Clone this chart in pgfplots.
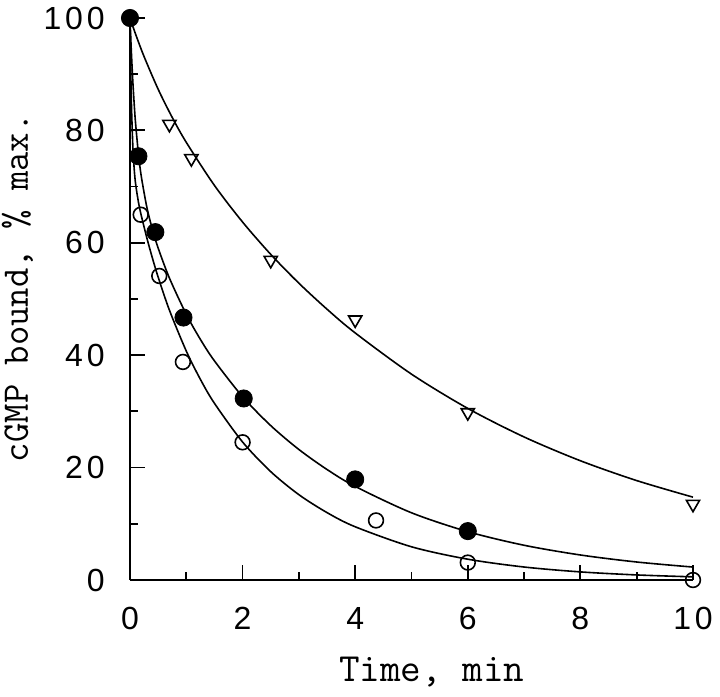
\documentclass[border=0pt]{standalone}
\usepackage{fontspec}
\setmainfont{Liberation Sans}
\newfontfamily\tickfont{Liberation Sans}[LetterSpace=12]
\usepackage{pgfplots}
\pgfplotsset{compat=1.18}
\begin{document}
\begin{tikzpicture}
\begin{axis}[name=ax, at={(0,0)}, anchor=south west, scale only axis,
  width=281.5pt, height=281pt,
  xmin=0, xmax=10, ymin=0, ymax=100,
  axis x line=bottom, axis y line=left,
  axis line style={-, line width=1pt, black},
  xtick={0,2,...,10}, ytick={0,20,...,100},
  minor xtick={1,3,5,7,9}, minor ytick={10,30,50,70,90},
  tick align=inside, major tick length=7.5pt, minor tick length=4pt,
  every tick/.style={line width=0.9pt, black},
  clip=false,
  /pgf/number format/assume math mode=true,
  ticklabel style={font=\tickfont\fontsize{16}{16}\selectfont, inner sep=0pt},
  xticklabel style={yshift=-13.5pt},
  yticklabel style={xshift=-12.5pt},
  xlabel={Time, min}, ylabel={cGMP bound, \% max.},
  xlabel style={at={(axis description cs:0.536,-0.164)}, anchor=center, font=\ttfamily\fontsize{20}{20}\selectfont},
  ylabel style={at={(axis description cs:-0.2,0.52)}, anchor=center, font=\ttfamily\fontsize{18.8}{18.8}\selectfont},
]
% fitted curves
\addplot[black, line width=0.8pt, smooth, no marks] coordinates {
(0,100) (0.1,97.11) (0.25,93.14) (0.5,87.33) (0.75,82.31) (1,77.87) (1.5,70.21) (2,63.69) (2.5,57.94) (3,52.81) (3.5,48.18) (4,43.96) (5,36.63) (6,30.53) (7,25.45) (8,21.22) (9,17.69) (10,14.74)};
\addplot[black, line width=0.8pt, smooth, no marks] coordinates {
(0,100) (0.02,94.94) (0.05,88.76) (0.08,83.87) (0.1,81.16) (0.15,75.81) (0.2,71.86) (0.3,66.30) (0.4,62.32) (0.5,59.07) (0.7,53.73) (1,47.27) (1.25,42.82) (1.5,38.99) (2,32.61) (2.5,27.47) (3,23.22) (3.5,19.66) (4,16.65) (5,11.96) (6,8.60) (7,6.18) (8,4.45) (9,3.20) (10,2.30)};
\addplot[black, line width=0.8pt, smooth, no marks] coordinates {
(0,100) (0.01,92.76) (0.02,87.27) (0.03,83.07) (0.05,77.33) (0.075,73.08) (0.1,70.46) (0.15,67.23) (0.2,64.87) (0.3,60.84) (0.4,57.22) (0.5,53.90) (0.7,48.02) (1,40.73) (1.25,35.71) (1.5,31.44) (2,24.55) (2.5,19.28) (3,15.18) (3.5,11.99) (4,9.47) (5,5.91) (6,3.70) (7,2.31) (8,1.44) (9,0.90) (10,0.56)};
% data: triangles
\addplot[black, only marks, mark=triangle, mark size=3.8pt, mark options={rotate=180, line width=0.8pt}] coordinates {
(0.70,81.1) (1.09,75.0) (2.50,56.9) (4.0,46.3) (6.0,29.8) (10,13.5)};
% data: open circles
\addplot[black, only marks, mark=o, mark size=3.7pt, mark options={line width=0.8pt}] coordinates {
(0.19,65.0) (0.52,54.1) (0.94,38.8) (2.0,24.5) (4.37,10.6) (6.0,3.1) (10,0)};
% data: filled circles
\addplot[black, only marks, mark=*, mark size=4.3pt, mark options={fill=black}] coordinates {
(0,100) (0.15,75.4) (0.45,61.9) (0.95,46.7) (2.02,32.3) (4.0,17.9) (6.0,8.7)};
\end{axis}
\pgfresetboundingbox
\path (-65pt,-58.5pt) rectangle (295pt,290pt);
\end{tikzpicture}
\end{document}
